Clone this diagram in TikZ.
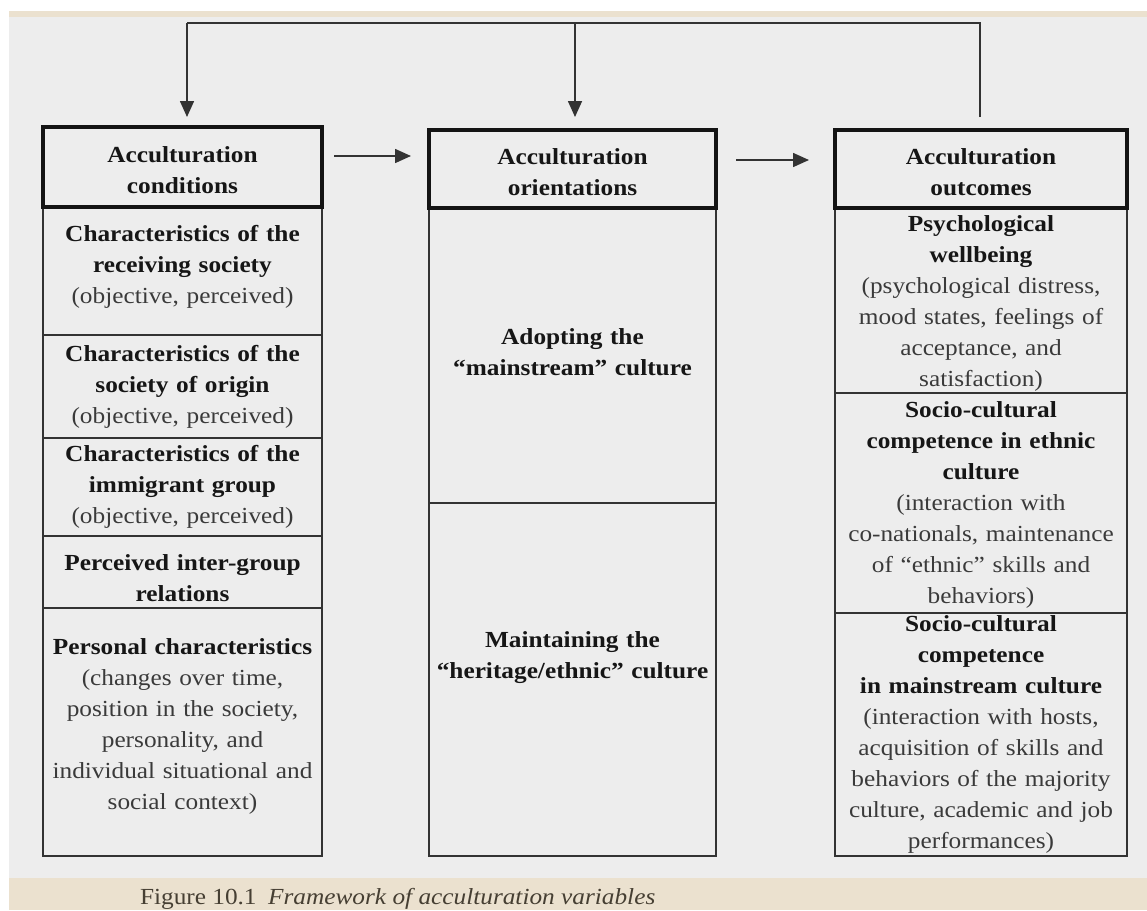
\documentclass[tikz,border=0pt]{standalone}
\usepackage{fontspec}
\setmainfont{Liberation Serif}[FakeStretch=1.1]
\usetikzlibrary{arrows.meta,calc}
\definecolor{bgray}{HTML}{EDEDED}
\definecolor{beige}{HTML}{EBE1CF}
\definecolor{linec}{HTML}{333333}
\definecolor{boldc}{HTML}{161616}
\definecolor{regc}{HTML}{3A3A3A}
\definecolor{capc}{HTML}{463F33}
\begin{document}
\begin{tikzpicture}[x=1pt,y=1pt,
  every node/.style={inner sep=0pt,outer sep=0pt},
  subbox/.style={draw=linec,line width=1.6pt,rectangle},
  headbox/.style={draw=black!92,line width=4.5pt,rectangle},
  txt/.style={align=center,text=boldc,font=\fontsize{23}{31}\selectfont},
  fb/.style={draw=linec,line width=1.6pt},
  arr/.style={-{Triangle[length=16pt,width=14pt]}},
]
\newcommand{\rg}[1]{{\mdseries\color{regc}#1}}
\useasboundingbox (0,0) rectangle (1147,-910);
% background
\fill[white] (0,0) rectangle (1147,-910);
\fill[beige] (9,-11) rectangle (1147,-17);
\fill[bgray] (9,-17) rectangle (1147,-878);
\fill[beige] (9,-878) rectangle (1147,-910);

% left column
\node[subbox,minimum width=279,minimum height=128] (b11) at (182.5,-271) {};
\node[subbox,minimum width=279,minimum height=103] (b12) at (182.5,-386.5) {};
\node[subbox,minimum width=279,minimum height=98] (b13) at (182.5,-487) {};
\node[subbox,minimum width=279,minimum height=248] (b15) at (182.5,-732) {};
\node[subbox,line width=2.4pt,minimum width=279,minimum height=72] (b14) at (182.5,-572) {};
\node[headbox,minimum width=279,minimum height=80] (h1) at (182.5,-167) {};

% middle column
\node[subbox,minimum width=287,minimum height=295] (b21) at (572.5,-355.5) {};
\node[subbox,minimum width=287,minimum height=353] (b22) at (572.5,-679.5) {};
\node[headbox,minimum width=287,minimum height=78] (h2) at (572.5,-169) {};

% right column
\node[subbox,minimum width=292,minimum height=185] (b31) at (981,-300.5) {};
\node[subbox,minimum width=292,minimum height=220] (b32) at (981,-503) {};
\node[subbox,minimum width=292,minimum height=243] (b33) at (981,-734.5) {};
\node[headbox,minimum width=292,minimum height=78] (h3) at (981,-169) {};

% texts left
\begin{scope}[every node/.append style={txt,text width=272}]
\node (t1) at (182.5,-170) {\textbf{Acculturation\\conditions}};
\node (t11) at (182.5,-267) {\textbf{Characteristics of the\\receiving society}\\\rg{(objective, perceived)}};
\node (t12) at (182.5,-387) {\textbf{Characteristics of the\\society of origin}\\\rg{(objective, perceived)}};
\node (t13) at (182.5,-487) {\textbf{Characteristics of the\\immigrant group}\\\rg{(objective, perceived)}};
\node (t14) at (182.5,-578) {\textbf{Perceived inter-group\\relations}};
\node (t15) at (182.5,-726) {\textbf{Personal characteristics}\\\rg{(changes over time,\\position in the society,\\personality, and\\individual situational and\\social context)}};
\end{scope}
% texts middle
\begin{scope}[every node/.append style={txt,text width=280}]
\node (t2) at (572.5,-172.5) {\textbf{Acculturation\\orientations}};
\node (t21) at (572.5,-352) {\textbf{Adopting the\\“mainstream” culture}};
\node (t22) at (572.5,-658) {\textbf{Maintaining the\\“heritage/ethnic” culture}};
\end{scope}
% texts right
\begin{scope}[every node/.append style={txt,text width=288}]
\node (t3) at (981,-172.5) {\textbf{Acculturation\\outcomes}};
\node (t31) at (981,-303) {\textbf{Psychological\\wellbeing}\\\rg{(psychological distress,\\mood states, feelings of\\acceptance, and\\satisfaction)}};
\node (t32) at (981,-505) {\textbf{Socio-cultural\\competence in ethnic\\culture}\\\rg{(interaction with\\co-nationals, maintenance\\of “ethnic” skills and\\behaviors)}};
\node (t33) at (981,-734.5) {\textbf{Socio-cultural\\competence\\in mainstream culture}\\\rg{(interaction with hosts,\\acquisition of skills and\\behaviors of the majority\\culture, academic and job\\performances)}};
\end{scope}

% horizontal arrows
\draw[fb,arr] ($(h1.east)+(12,11)$) -- ($(h1.east -| h2.west)+(-18,11)$);
\draw[fb,arr] ($(h2.east)+(20,9)$) -- ($(h2.east -| h3.west)+(-26,9)$);

% feedback loop
\coordinate (l0) at (187,-23);
\coordinate (m0) at (575,-23);
\coordinate (r0) at (980,-23);
\draw[fb] ($(h3.north -| r0)+(0,13)$) -- (r0) -- (l0);
\draw[fb,arr] (l0) -- ($(h1.north -| l0)+(0,10)$);
\draw[fb,arr] (m0) -- ($(h2.north -| m0)+(0,13)$);

% caption
\node[anchor=base west,text=capc,font=\fontsize{23}{27}\selectfont] (cap) at (140,-904)
  {Figure 10.1\hspace{0.5em}\textit{Framework of acculturation variables}};
\end{tikzpicture}
\end{document}
